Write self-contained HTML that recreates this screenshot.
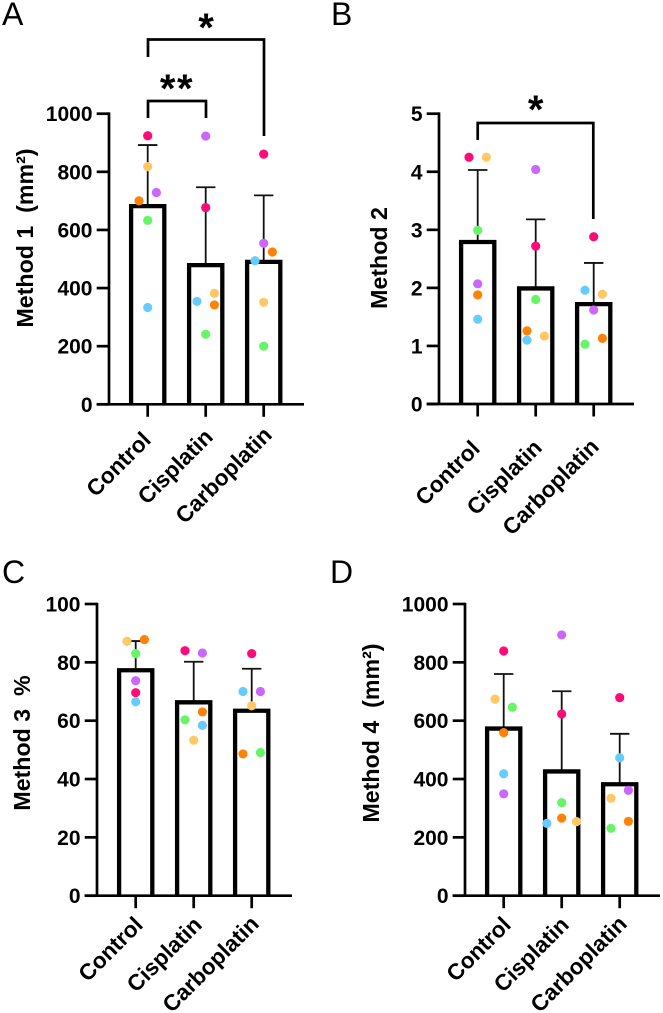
<!DOCTYPE html>
<html>
<head>
<meta charset="utf-8">
<title>Method comparison bar charts</title>
<style>
html,body{margin:0;padding:0;background:#fff;}
svg{display:block;}
text{font-family:"Liberation Sans",Arial,sans-serif;fill:#000;white-space:pre;}
.tick{font-size:21px;font-weight:bold;}
.cat{font-size:22.5px;font-weight:bold;}
.title{font-size:23.2px;font-weight:bold;}
.letter{font-size:32px;}
.star{font-size:40px;font-weight:bold;}
</style>
</head>
<body>
<svg id="figure" width="663" height="1013" viewBox="0 0 663 1013" xmlns="http://www.w3.org/2000/svg">
  <text class="letter" x="2" y="25">A</text>
  <text class="letter" x="331" y="25">B</text>
  <text class="letter" x="2" y="583">C</text>
  <text class="letter" x="330" y="583">D</text>
  <text class="title" transform="translate(33,238) rotate(-90)" text-anchor="middle">Method 1  (mm²)</text>
  <text class="title" transform="translate(387,258) rotate(-90)" text-anchor="middle">Method 2</text>
  <text class="title" transform="translate(30,743) rotate(-90)" text-anchor="middle">Method 3  %</text>
  <text class="title" transform="translate(379,733) rotate(-90)" text-anchor="middle">Method 4  (mm²)</text>
  <path d="M148 57V39.5H264V136" fill="none" stroke="#000" stroke-width="2.7"/>
  <path d="M148 118V101H206V118" fill="none" stroke="#000" stroke-width="2.7"/>
  <text class="star" x="206" y="41" text-anchor="middle">*</text>
  <text class="star" x="177" y="102" text-anchor="middle" letter-spacing="1.5">**</text>
  <path d="M477.7 140V123H593.3V219" fill="none" stroke="#000" stroke-width="2.7"/>
  <text class="star" x="535.7" y="123" text-anchor="middle">*</text>
</svg>
<script>
const categories = ["Control", "Cisplatin", "Carboplatin"];

const colorPink = "#ff0a78";
const colorOrange = "#ff8205";
const colorYellow = "#ffc766";
const colorGreen = "#66f566";
const colorBlue = "#66ccff";
const colorPurple = "#cc66ff";

const ticksA = [0, 200, 400, 600, 800, 1000];
const meansA = [682, 479, 490];
const errorsA = [210, 268, 229];
const pinkA = [924, 677, 861];
const orangeA = [700, 342, 524];
const yellowA = [818, 382, 351];
const greenA = [633, 241, 200];
const blueA = [333, 354, 494];
const purpleA = [729, 923, 554];

const ticksB = [0, 1, 2, 3, 4, 5];
const meansB = [2.79, 1.99, 1.72];
const errorsB = [1.24, 1.19, 0.71];
const pinkB = [4.25, 2.72, 2.88];
const orangeB = [1.88, 1.26, 1.13];
const yellowB = [4.25, 1.17, 1.89];
const greenB = [2.99, 1.80, 1.03];
const blueB = [1.46, 1.10, 1.96];
const purpleB = [2.07, 4.04, 1.62];

const ticksC = [0, 20, 40, 60, 80, 100];
const meansC = [77.3, 66.3, 63.4];
const errorsC = [10.0, 13.9, 14.4];
const pinkC = [69.6, 84, 83];
const orangeC = [87.8, 63, 48.6];
const yellowC = [87.2, 53.3, 65.1];
const greenC = [83, 60.3, 49.1];
const blueC = [66.5, 58.4, 70];
const purpleC = [73.7, 83.2, 70];

const ticksD = [0, 200, 400, 600, 800, 1000];
const meansD = [573, 426, 382];
const errorsD = [187, 275, 173];
const pinkD = [839, 623, 679];
const orangeD = [559, 266, 255];
const yellowD = [674, 254, 334];
const greenD = [646, 319, 231];
const blueD = [418, 248, 473];
const purpleD = [349, 894, 361];

/* swarm slots for each category, ordered pink, orange, yellow, green, blue, purple */
const slotsA = [[0,-1,0,0,0,1],[0,1,1,0,-1,0],[0,1,0,0,-1,0]];
const slotsB = [[-1,0,1,0,0,0],[0,-1,1,0,-1,0],[0,1,1,-1,-1,0]];
const slotsC = [[0,1,-1,0,0,0],[-1,1,0,-1,1,1],[0,-1,0,1,-1,1]];
const slotsD = [[0,0,-1,1,0,0],[0,0,1.7,0,-1.7,0],[0,1,-1,-1,0,1]];

const NS = "http://www.w3.org/2000/svg";
const figure = document.getElementById("figure");

function make(tag, parent, props) {
  const node = document.createElementNS(NS, tag);
  for (const k in props) node.setAttribute(k, props[k]);
  parent.appendChild(node);
  return node;
}

function drawPanel(p) {
  const yMax = p.ticks[p.ticks.length - 1];
  const yScale = v => p.y0 - (v / yMax) * (p.y0 - p.yTop);
  const xScale = i => p.axisX + 38.7 + i * 58;
  const slotWidth = 8.7;
  const halfBar = 16.6;

  const g = make("g", figure, {});
  
  

  categories.forEach((name, i) => {
    const c = xScale(i);
    const topY = yScale(p.means[i]);
    const errY = yScale(p.means[i] + p.errors[i]);

    const whisker = make("line", g, {x1: c, x2: c, y1: topY, y2: errY, stroke: "#111", "stroke-width": 1.8});
    
    

    const cap = make("line", g, {x1: c - 9.7, x2: c + 9.7, y1: errY, y2: errY, stroke: "#111", "stroke-width": 1.8});
    
    

    const bar = make("path", g, {
      d: "M" + (c - halfBar) + " " + p.y0 + "V" + topY + "H" + (c + halfBar) + "V" + p.y0,
      fill: "none", stroke: "#000", "stroke-width": 4.3
    });
    
    

    const tick = make("line", g, {x1: c, x2: c, y1: p.y0, y2: p.y0 + 12.5, stroke: "#000", "stroke-width": 2.7});
    
    

    const px = c + 2.5 + p.labelNudgeX[i];
    const py = p.y0 + p.labelDrop + p.labelNudgeY[i];
    const label = make("text", g, {"class": "cat", "text-anchor": "end", x: px, y: py, transform: "rotate(-45 " + px + " " + py + ")"});
    label.textContent = name;
    
    
  });

  const xAxis = make("line", g, {x1: p.axisX - 12.3, x2: p.axisX + 195, y1: p.y0, y2: p.y0, stroke: "#000", "stroke-width": 2.7});
  
  

  const yAxis = make("line", g, {x1: p.axisX, x2: p.axisX, y1: p.yTop - 1.3, y2: p.y0, stroke: "#000", "stroke-width": 2.7});
  
  

  p.ticks.forEach(t => {
    const ty = yScale(t);
    const tick = make("line", g, {x1: p.axisX - 12.3, x2: p.axisX, y1: ty, y2: ty, stroke: "#000", "stroke-width": 2.7});
    
    

    const label = make("text", g, {"class": "tick", "text-anchor": "end", x: p.axisX - 16.5, y: ty + 7.5});
    label.textContent = String(t);
    
    
  });

  p.series.forEach((s, si) => {
    s.values.forEach((v, i) => {
      const dot = make("circle", g, {cx: xScale(i) + p.slots[i][si] * slotWidth, cy: yScale(v), r: 4.6, fill: s.color});
      
      
    });
  });
}

function seriesOf(pink, orange, yellow, green, blue, purple) {
  return [
    {color: colorPink, values: pink},
    {color: colorOrange, values: orange},
    {color: colorYellow, values: yellow},
    {color: colorGreen, values: green},
    {color: colorBlue, values: blue},
    {color: colorPurple, values: purple}
  ];
}

drawPanel({axisX: 109, y0: 404.3, yTop: 113.7, labelDrop: 33, labelNudgeX: [2, 6, 7], labelNudgeY: [4, 1, -1], ticks: ticksA, means: meansA, errors: errorsA, slots: slotsA,
  series: seriesOf(pinkA, orangeA, yellowA, greenA, blueA, purpleA)});
drawPanel({axisX: 439, y0: 404, yTop: 113.7, labelDrop: 41, labelNudgeX: [1, 5, 4], labelNudgeY: [5, 4, 3], ticks: ticksB, means: meansB, errors: errorsB, slots: slotsB,
  series: seriesOf(pinkB, orangeB, yellowB, greenB, blueB, purpleB)});
drawPanel({axisX: 97, y0: 895.7, yTop: 604, labelDrop: 28.5, labelNudgeX: [6, 7, 6], labelNudgeY: [2, 2, 1], ticks: ticksC, means: meansC, errors: errorsC, slots: slotsC,
  series: seriesOf(pinkC, orangeC, yellowC, greenC, blueC, purpleC)});
drawPanel({axisX: 465, y0: 895.7, yTop: 604, labelDrop: 28.5, labelNudgeX: [6, 6, 6], labelNudgeY: [2, 2, 1], ticks: ticksD, means: meansD, errors: errorsD, slots: slotsD,
  series: seriesOf(pinkD, orangeD, yellowD, greenD, blueD, purpleD)});
</script>
</body>
</html>
